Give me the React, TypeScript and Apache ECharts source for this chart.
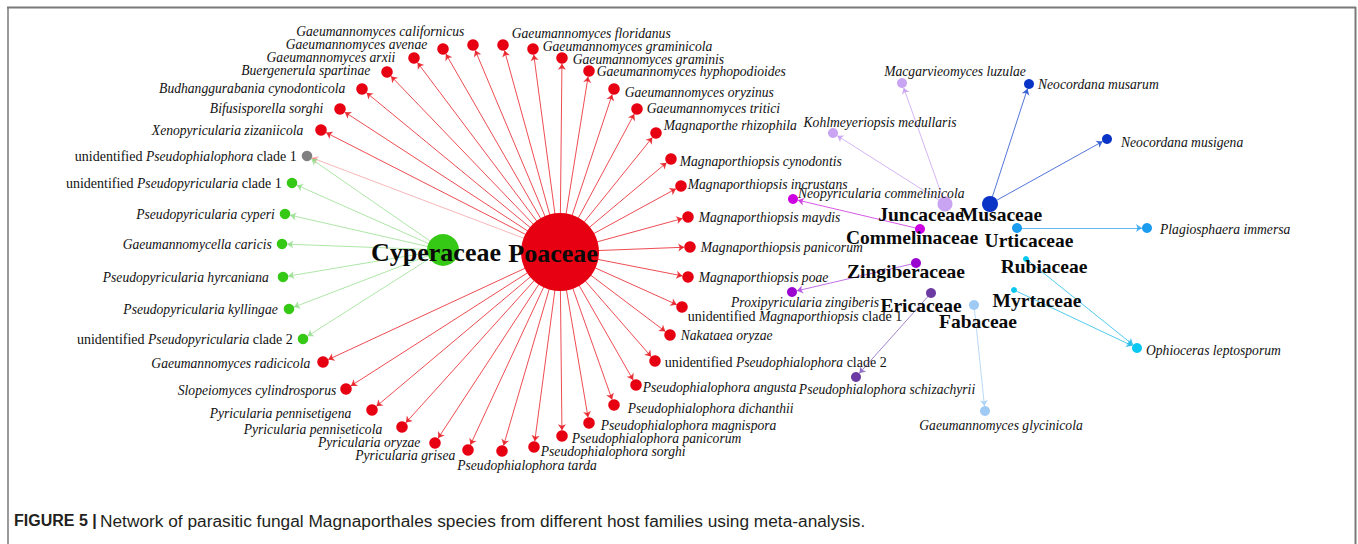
import React, { useEffect, useRef } from "react";
import * as echarts from "echarts";

// ---------- DATA ----------
// Host families (hubs) and their positions in the network layout
const hostNames = ["Cyperaceae", "Poaceae", "Juncaceae", "Musaceae", "Commelinaceae", "Urticaceae", "Zingiberaceae", "Ericaceae", "Fabaceae", "Rubiaceae", "Myrtaceae"];
const hostX = [443, 560, 945, 990, 920, 1017, 916, 931, 974, 1026, 1014];
const hostY = [250, 252, 204, 204, 229, 228, 263, 293, 305, 259, 290];

// Species parasitic on Poaceae
const poaceaeSpecies = [
  "Xenopyricularia zizaniicola", "Bifusisporella sorghi", "Budhanggurabania cynodonticola", "Buergenerula spartinae",
  "Gaeumannomyces arxii", "Gaeumannomyces avenae", "Gaeumannomyces californicus", "Gaeumannomyces floridanus",
  "Gaeumannomyces graminicola", "Gaeumannomyces graminis", "Gaeumannomyces hyphopodioides", "Gaeumannomyces oryzinus",
  "Gaeumannomyces tritici", "Magnaporthe rhizophila", "Magnaporthiopsis cynodontis", "Magnaporthiopsis incrustans",
  "Magnaporthiopsis maydis", "Magnaporthiopsis panicorum", "Magnaporthiopsis poae", "unidentified Magnaporthiopsis clade 1",
  "Nakataea oryzae", "unidentified Pseudophialophora clade 2", "Pseudophialophora angusta", "Pseudophialophora dichanthii",
  "Pseudophialophora magnispora", "Pseudophialophora panicorum", "Pseudophialophora sorghi", "Pseudophialophora tarda",
  "Pyricularia grisea", "Pyricularia oryzae", "Pyricularia penniseticola", "Pyricularia pennisetigena",
  "Slopeiomyces cylindrosporus", "Gaeumannomyces radicicola",
];
const poaceaeX = [321, 340, 362, 387, 414, 443, 473, 503, 533, 562, 589, 614, 637, 656, 671, 681, 688, 690, 688, 682, 670, 655, 636, 614, 589, 562, 534, 502, 468, 435, 402, 372, 346, 323];
const poaceaeY = [130, 109, 89, 72, 58, 49, 45, 45, 49, 58, 71, 89, 109, 133, 159, 186, 217, 247, 277, 307, 335, 361, 385, 405, 423, 436, 447, 451, 450, 443, 427, 410, 389, 362];

// Species parasitic on Cyperaceae
const cyperaceaeSpecies = [
  "unidentified Pseudopyricularia clade 1", "Pseudopyricularia cyperi", "Gaeumannomycella caricis",
  "Pseudopyricularia hyrcaniana", "Pseudopyricularia kyllingae", "unidentified Pseudopyricularia clade 2",
];
const cyperaceaeX = [292, 285, 282, 283, 289, 303];
const cyperaceaeY = [183, 214, 244, 277, 309, 339];

// Species shared by Cyperaceae and Poaceae
const sharedSpecies = ["unidentified Pseudophialophora clade 1"];
const sharedX = [307];
const sharedY = [156];

// Species of the other host families
const otherSpecies = [
  "Macgarvieomyces luzulae", "Kohlmeyeriopsis medullaris", "Neocordana musarum", "Neocordana musigena",
  "Neopyricularia commelinicola", "Plagiosphaera immersa", "Proxipyricularia zingiberis",
  "Pseudophialophora schizachyrii", "Gaeumannomyces glycinicola", "Ophioceras leptosporum",
];
const otherX = [902, 833, 1029, 1107, 793, 1147, 792, 856, 985, 1137];
const otherY = [83, 133, 84, 139, 199, 228, 292, 377, 411, 348];
const otherHosts = [
  ["Juncaceae"], ["Juncaceae"], ["Musaceae"], ["Musaceae"], ["Commelinaceae"], ["Urticaceae"],
  ["Zingiberaceae"], ["Ericaceae"], ["Fabaceae"], ["Rubiaceae", "Myrtaceae"],
];

const captionBold = "FIGURE 5 |";
const captionText = "Network of parasitic fungal Magnaporthales species from different host families using meta-analysis.";

// ---------- STYLE ----------
const SERIF = "'Liberation Serif', 'Times New Roman', serif";
const SANS = "'Liberation Sans', Arial, sans-serif";

const hubStyle: Record<string, { color: string; size: number; edge: string; edgeOpacity: number; off: number[] }> = {
  Cyperaceae: { color: "#35c814", size: 32, edge: "#8fdc86", edgeOpacity: 0.8, off: [-7, 2] },
  Poaceae: { color: "#e60012", size: 78, edge: "#e8141c", edgeOpacity: 0.85, off: [-7, 1] },
  Juncaceae: { color: "#c9a4f2", size: 15, edge: "#c9a4f2", edgeOpacity: 0.9, off: [-24, 10] },
  Musaceae: { color: "#0a34c6", size: 16, edge: "#2a55d0", edgeOpacity: 0.9, off: [11, 10] },
  Commelinaceae: { color: "#cc00e0", size: 10, edge: "#cc33e0", edgeOpacity: 0.9, off: [-8, 8] },
  Urticaceae: { color: "#1c9cef", size: 10, edge: "#3aa8ee", edgeOpacity: 0.9, off: [12, 12] },
  Zingiberaceae: { color: "#9a06d0", size: 10, edge: "#b04ee0", edgeOpacity: 0.9, off: [-10, 8] },
  Ericaceae: { color: "#6b3aa2", size: 10, edge: "#8a68c0", edgeOpacity: 0.9, off: [-10, 12] },
  Fabaceae: { color: "#9fcaf4", size: 10, edge: "#a8d0f4", edgeOpacity: 0.9, off: [4, 16] },
  Rubiaceae: { color: "#08c8f2", size: 6, edge: "#28bde8", edgeOpacity: 0.9, off: [18, 7] },
  Myrtaceae: { color: "#08c8f2", size: 6, edge: "#28bde8", edgeOpacity: 0.9, off: [23, 10] },
};

// label placement tweaks (position, [dx, dy], distance)
const labelTweak: Record<string, [string, number[], number]> = {
  "Gaeumannomyces californicus": ["left", [0, -14], 3],
  "Gaeumannomyces avenae": ["left", [0, -5], 10],
  "Gaeumannomyces arxii": ["left", [0, -1], 13],
  "Buergenerula spartinae": ["left", [0, -2], 11],
  "Budhanggurabania cynodonticola": ["left", [0, -1], 11],
  "Bifusisporella sorghi": ["left", [0, -1], 11],
  "Xenopyricularia zizaniicola": ["left", [0, 0], 12],
  "Gaeumannomyces floridanus": ["right", [0, -12], 3],
  "Gaeumannomyces graminicola": ["right", [0, -3], 4],
  "Gaeumannomyces graminis": ["right", [0, 1], 5],
  "Gaeumannomyces hyphopodioides": ["right", [0, 0], 2],
  "Gaeumannomyces oryzinus": ["right", [0, 3], 5],
  "Gaeumannomyces tritici": ["right", [0, -1], 4],
  "Magnaporthe rhizophila": ["right", [0, -8], 2],
  "Magnaporthiopsis cynodontis": ["right", [0, 2], 3],
  "Magnaporthiopsis incrustans": ["right", [0, -2], 1],
  "unidentified Magnaporthiopsis clade 1": ["right", [0, 9], 0],
  "unidentified Pseudophialophora clade 2": ["right", [0, 1], 4],
  "Pseudophialophora angusta": ["right", [0, 2], 1],
  "Pseudophialophora dichanthii": ["right", [0, 3], 8],
  "Pseudophialophora magnispora": ["right", [0, 2], 6],
  "Pseudophialophora panicorum": ["right", [0, 2], 4],
  "Pseudophialophora sorghi": ["right", [0, 4], 1],
  "Pseudophialophora tarda": ["bottom", [25, 0], 2],
  "Pyricularia grisea": ["left", [0, 5], 7],
  "Pyricularia oryzae": ["left", [0, -1], 9],
  "Pyricularia penniseticola": ["left", [0, 2], 14],
  "Pyricularia pennisetigena": ["left", [0, 3], 15],
  "Slopeiomyces cylindrosporus": ["left", [0, 1], 4],
  "Gaeumannomyces radicicola": ["left", [0, 1], 7],
  "Pseudopyricularia hyrcaniana": ["left", [0, 0], 9],
  "Pseudopyricularia kyllingae": ["left", [0, 0], 6],
  "Macgarvieomyces luzulae": ["top", [53, 2], 2],
  "Kohlmeyeriopsis medullaris": ["top", [47, 2], 1],
  "Neocordana musarum": ["right", [0, 0], 4],
  "Neocordana musigena": ["right", [0, 3], 9],
  "Neopyricularia commelinicola": ["right", [0, -6], 0],
  "Plagiosphaera immersa": ["right", [0, 1], 8],
  "Proxipyricularia zingiberis": ["bottom", [13, -4], 2],
  "Pseudophialophora schizachyrii": ["bottom", [31, -2], 2],
  "Gaeumannomyces glycinicola": ["bottom", [16, 0], 2],
  "Ophioceras leptosporum": ["right", [0, 2], 4],
};

function speciesLabel(name: string): string {
  const m = name.match(/^unidentified (\S+) (clade \d)$/);
  if (m) return `{n|unidentified }{i|${m[1]}}{n| ${m[2]}}`;
  return `{i|${name}}`;
}

function buildOption() {
  const nodes: any[] = [];
  const links: any[] = [];

  hostNames.forEach((h, i) => {
    const s = hubStyle[h];
    const big = h === "Cyperaceae" || h === "Poaceae";
    nodes.push({
      name: h,
      value: [hostX[i], hostY[i]],
      symbolSize: s.size,
      itemStyle: { color: s.color },
      label: {
        show: true,
        position: "inside",
        offset: s.off,
        formatter: "{h|{b}}",
        rich: {
          h: {
            fontFamily: SERIF,
            fontWeight: "bold",
            fontSize: big ? 26 : 19.5,
            color: "#0a0a0a",
          },
        },
      },
      z: big ? 3 : 2,
    });
  });

  const addSpecies = (name: string, x: number, y: number, color: string, size: number, hubX: number) => {
    const t = labelTweak[name];
    const position = t ? t[0] : x < hubX ? "left" : "right";
    nodes.push({
      name,
      value: [x, y],
      symbolSize: size,
      itemStyle: { color },
      label: {
        show: true,
        position,
        offset: t ? t[1] : [0, 0],
        distance: t ? t[2] : 5,
        formatter: speciesLabel(name),
        rich: {
          i: { fontFamily: SERIF, fontStyle: "italic", fontSize: 13.6, color: "#111" },
          n: { fontFamily: SERIF, fontSize: 14, color: "#111" },
        },
      },
    });
  };

  const link = (hub: string, target: string, opacity?: number) => {
    const s = hubStyle[hub];
    links.push({
      source: hub,
      target,
      lineStyle: { color: s.edge, width: 0.9, opacity: opacity ?? s.edgeOpacity },
    });
  };

  poaceaeSpecies.forEach((n, i) => {
    addSpecies(n, poaceaeX[i], poaceaeY[i], hubStyle.Poaceae.color, 11.5, hostX[1]);
    link("Poaceae", n);
  });
  cyperaceaeSpecies.forEach((n, i) => {
    addSpecies(n, cyperaceaeX[i], cyperaceaeY[i], hubStyle.Cyperaceae.color, 10.5, hostX[0]);
    link("Cyperaceae", n);
  });
  sharedSpecies.forEach((n, i) => {
    addSpecies(n, sharedX[i], sharedY[i], "#808080", 10.5, hostX[0]);
    link("Poaceae", n, 0.35);
    link("Cyperaceae", n);
  });
  otherSpecies.forEach((n, i) => {
    const hosts = otherHosts[i];
    const hi = hostNames.indexOf(hosts[0]);
    addSpecies(n, otherX[i], otherY[i], hubStyle[hosts[0]].color, 10, hostX[hi]);
    hosts.forEach((h) => link(h, n));
  });

  return {
    animation: false,
    backgroundColor: "#ffffff",
    grid: { left: 0, right: 0, top: 0, bottom: 0, containLabel: false },
    xAxis: { type: "value", min: 0, max: 1358, show: false },
    yAxis: { type: "value", min: 0, max: 544, inverse: true, show: false },
    series: [
      {
        type: "graph",
        coordinateSystem: "cartesian2d",
        layout: "none",
        roam: false,
        silent: true,
        emphasis: { disabled: true },
        edgeSymbol: ["none", "arrow"],
        edgeSymbolSize: [0, 6],
        data: nodes,
        links,
        label: { show: true },
        z: 2,
      },
    ],
    graphic: [
      { type: "line", shape: { x1: 7, y1: 7.5, x2: 1356, y2: 7.5 }, style: { stroke: "#7a7a7a", lineWidth: 2 } },
      { type: "line", shape: { x1: 8, y1: 7, x2: 8, y2: 544 }, style: { stroke: "#7a7a7a", lineWidth: 1.5 } },
      { type: "line", shape: { x1: 1355.5, y1: 7, x2: 1355.5, y2: 544 }, style: { stroke: "#7a7a7a", lineWidth: 2 } },
      {
        type: "text",
        left: 14,
        top: 512,
        style: {
          text: `{b|${captionBold}} {r|${captionText}}`,
          rich: {
            b: { fontFamily: SANS, fontWeight: "bold", fontSize: 16, fill: "#231f20" },
            r: { fontFamily: SANS, fontSize: 17.3, fill: "#231f20" },
          },
        },
      },
    ],
  };
}

export default function App() {
  const ref = useRef<HTMLDivElement>(null);
  useEffect(() => {
    if (!ref.current) return;
    const chart = echarts.init(ref.current, undefined, { renderer: "svg" });
    chart.setOption(buildOption() as any);
    return () => chart.dispose();
  }, []);
  return (
    <div
      ref={ref}
      style={{ position: "fixed", left: 0, top: 0, width: 1358, height: 544, background: "#fff" }}
    />
  );
}
